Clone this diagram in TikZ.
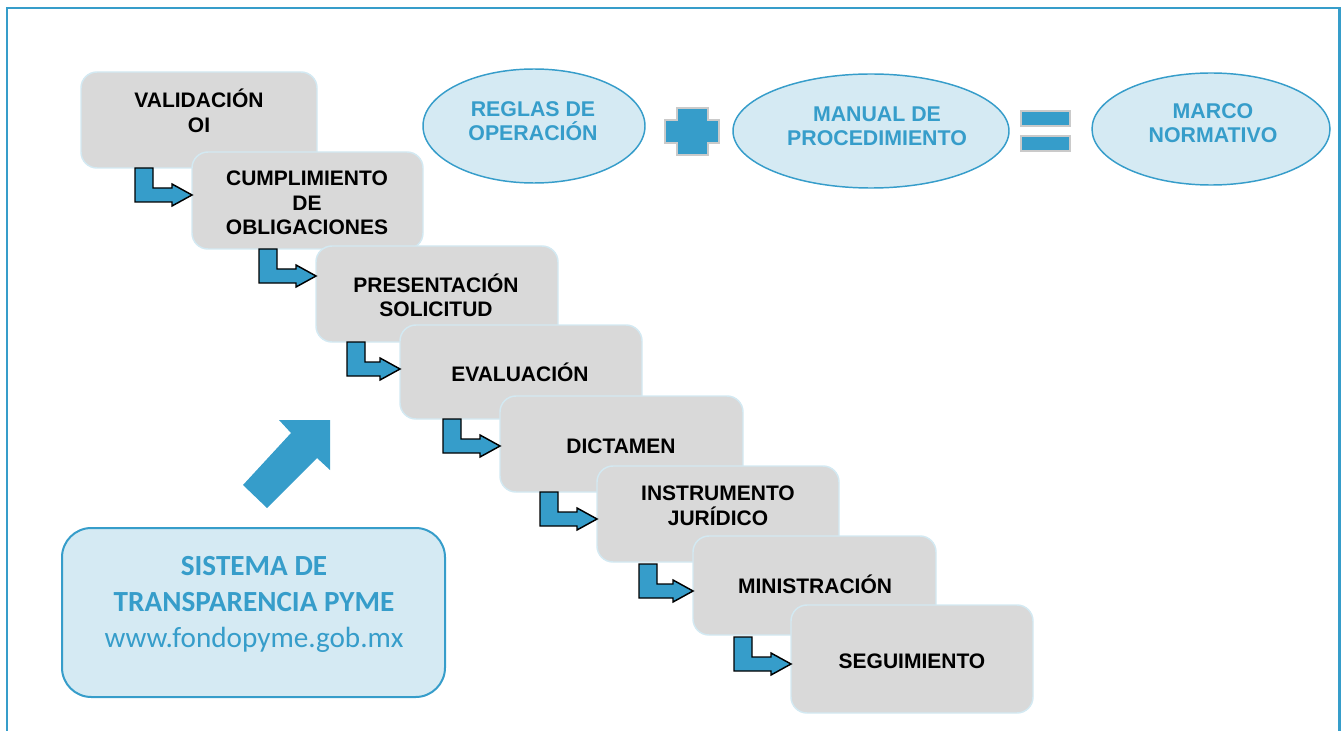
\documentclass[tikz,border=0pt]{standalone}
\usepackage{fontspec}
\setmainfont{Liberation Sans}
\newfontfamily\calibri{Carlito}
\usepackage{tikz}
\usetikzlibrary{calc, positioning, shapes.geometric}

\definecolor{azul}{HTML}{369DCA}
\definecolor{celeste}{HTML}{D5EAF3}
\definecolor{gris}{HTML}{D9D9D9}
\definecolor{bordepaso}{HTML}{D3E9F2}
\definecolor{sombra}{HTML}{CACACA}

\begin{document}
\begin{tikzpicture}[
		x=0.75pt, y=-0.75pt,
		paso/.style={rectangle, rounded corners=12pt, draw=bordepaso, line width=1.1pt, fill=gris, inner sep=0pt, outer sep=0pt},
		texto/.style={font=\fontsize{15.75}{18.4}\selectfont\bfseries, align=center, text=black},
		elipse/.style={ellipse, draw=azul, line width=1.1pt, fill=celeste, inner sep=0pt, outer sep=0pt},
		textoazul/.style={font=\fontsize{16}{17.8}\selectfont\bfseries, align=center, text=azul},
		flecha/.style={draw=black, line width=1.1pt, fill=azul, line join=miter},
		signo/.style={draw=sombra, line width=1.1pt, fill=azul},
		sistema/.style={rectangle, rounded corners=22pt, draw=azul, line width=1.5pt, fill=celeste, inner sep=0pt},
		textosis/.style={font=\calibri\fontsize{21.9}{27}\selectfont, align=center, text=azul}
		]
	\useasboundingbox (0,0) rectangle (1343,731);

	% --- Marco exterior ---
	\draw[azul, line width=1.9pt] (7,740) -- (7,8) -- (1339.5,8) -- (1339.5,740);

	% --- Pasos del proceso ---
	\node[paso, minimum width=177pt, minimum height=72pt] (P1) at (199,120) {};
	\node[paso, minimum width=173.25pt, minimum height=72.75pt] (P2) at (307.5,200.5) {};
	\node[paso, minimum width=181.5pt, minimum height=72pt] (P3) at (437,294) {};
	\node[paso, minimum width=181.5pt, minimum height=70.5pt] (P4) at (521,372) {};
	\node[paso, minimum width=182.25pt, minimum height=72pt] (P5) at (621.5,444) {};
	\node[paso, minimum width=181.5pt, minimum height=72pt] (P6) at (718,514) {};
	\node[paso, minimum width=182.25pt, minimum height=74.25pt] (P7) at (814.5,585.5) {};
	\node[paso, minimum width=181.5pt, minimum height=81pt] (P8) at (912,659) {};

	\node[texto] (T1) at (199,111) {VALIDACIÓN\\OI};
	\node[texto] (T2) at (307,203) {CUMPLIMIENTO\\DE\\OBLIGACIONES};
	\node[texto] (T3) at (436,295.5) {PRESENTACIÓN\\SOLICITUD};
	\node[texto] (T4) at (520,372) {EVALUACIÓN};
	\node[texto] (T5) at (621,446) {DICTAMEN};
	\node[texto] (T6) at (718,506) {INSTRUMENTO\\JURÍDICO};
	\node[texto] (T7) at (815,584) {MINISTRACIÓN};
	\node[texto] (T8) at (912,661) {SEGUIMIENTO};

	% Flechas entre pasos
	\draw[flecha] ($(P2.west |- P1.south)+(-57,0)$) -- ++(18,0) -- ++(0,20) -- ++(19,0) -- ++(0,-4) -- ++(20,11) -- ++(-20,11) -- ++(0,-4) -- ++(-37,0) -- cycle;
	\draw[flecha] ($(P3.west |- P2.south)+(-57,0)$) -- ++(18,0) -- ++(0,20) -- ++(19,0) -- ++(0,-4) -- ++(20,11) -- ++(-20,11) -- ++(0,-4) -- ++(-37,0) -- cycle;
	\draw[flecha] ($(P4.west |- P3.south)+(-53,0)$) -- ++(18,0) -- ++(0,20) -- ++(15,0) -- ++(0,-4) -- ++(20,11) -- ++(-20,11) -- ++(0,-4) -- ++(-33,0) -- cycle;
	\draw[flecha] ($(P5.west |- P4.south)+(-57,0)$) -- ++(18,0) -- ++(0,20) -- ++(19,0) -- ++(0,-4) -- ++(20,11) -- ++(-20,11) -- ++(0,-4) -- ++(-37,0) -- cycle;
	\draw[flecha] ($(P6.west |- P5.south)+(-57,0)$) -- ++(18,0) -- ++(0,20) -- ++(19,0) -- ++(0,-4) -- ++(20,11) -- ++(-20,11) -- ++(0,-4) -- ++(-37,0) -- cycle;
	\draw[flecha] ($(P7.west |- P6.south)+(-54,2)$) -- ++(18,0) -- ++(0,20) -- ++(16,0) -- ++(0,-4) -- ++(20,11) -- ++(-20,11) -- ++(0,-4) -- ++(-34,0) -- cycle;
	\draw[flecha] ($(P8.west |- P7.south)+(-57,2)$) -- ++(18,0) -- ++(0,20) -- ++(19,0) -- ++(0,-4) -- ++(20,11) -- ++(-20,11) -- ++(0,-4) -- ++(-37,0) -- cycle;

	% --- Marco normativo ---
	\node[elipse, minimum width=166.5pt, minimum height=85.5pt] (R) at (534,126) {};
	\node[elipse, minimum width=207pt, minimum height=85.5pt] (M) at (871,131) {};
	\node[elipse, minimum width=178.5pt, minimum height=84pt] (N) at (1211,129) {};

	\node[textoazul] (TR) at (533,121.5) {REGLAS DE\\OPERACIÓN};
	\node[textoazul] (TM) at (877,126) {MANUAL DE\\PROCEDIMIENTO};
	\node[textoazul] (TN) at (1213,123.5) {MARCO\\NORMATIVO};

	% signos + y =
	\draw[signo] (677,108) -- (708,108) -- (708,120) -- (719,120) -- (719,143) -- (708,143) -- (708,155) -- (677,155) -- (677,143) -- (665,143) -- (665,120) -- (677,120) -- cycle;
	\draw[signo] (1021,111) rectangle (1070,126);
	\draw[signo] (1021,136) rectangle (1070,151);

	% --- Sistema de transparencia ---
	\fill[azul] (330,420) -- (279,420) -- (291,433) -- (243,485) -- (267,508) -- (317,458) -- (330,470) -- cycle;

	\node[sistema, minimum width=287.25pt, minimum height=126.75pt] (S) at (253.5,612.5) {};
	\node[textosis] (TS) at (254,604.5) {\textbf{SISTEMA DE}\\\textbf{TRANSPARENCIA PYME}\\www.fondopyme.gob.mx};

\end{tikzpicture}
\end{document}
